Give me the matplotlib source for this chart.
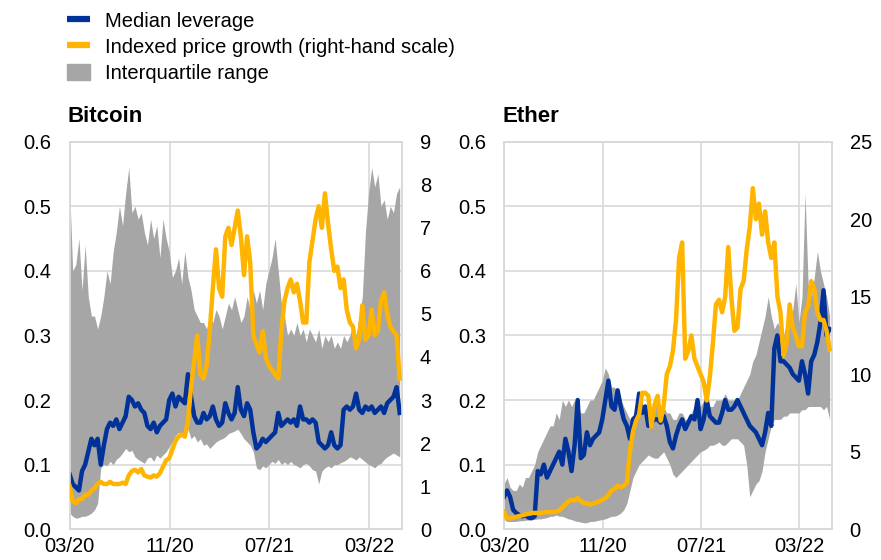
import matplotlib
matplotlib.use("Agg")
import matplotlib.pyplot as plt
import matplotlib.dates as mdates
from matplotlib.lines import Line2D
from matplotlib.patches import Patch
import pandas as pd

plt.rcParams['font.family'] = ['Liberation Sans', 'DejaVu Sans']

# readings every quarter of a month, 03/20 .. mid 05/22
dates = pd.date_range('2020-03-01', '2022-05-15', periods=107)

# Bitcoin
btc_median = [0.085, 0.07, 0.065, 0.06, 0.09, 0.1, 0.12, 0.14, 0.13, 0.14,
              0.1, 0.13, 0.155, 0.165, 0.16, 0.17, 0.155, 0.165, 0.175, 0.205,
              0.2, 0.19, 0.195, 0.185, 0.18, 0.16, 0.155, 0.165, 0.15, 0.16,
              0.165, 0.17, 0.2, 0.21, 0.19, 0.205, 0.2, 0.195, 0.24, 0.205,
              0.175, 0.165, 0.165, 0.18, 0.17, 0.175, 0.19, 0.17, 0.16, 0.165,
              0.195, 0.18, 0.17, 0.18, 0.22, 0.185, 0.175, 0.195, 0.185, 0.15,
              0.125, 0.13, 0.14, 0.135, 0.14, 0.145, 0.15, 0.18, 0.16, 0.165,
              0.17, 0.165, 0.17, 0.16, 0.19, 0.17, 0.17, 0.165, 0.17, 0.165,
              0.135, 0.13, 0.125, 0.13, 0.15, 0.13, 0.125, 0.13, 0.185, 0.19,
              0.185, 0.19, 0.21, 0.185, 0.18, 0.19, 0.185, 0.19, 0.18, 0.185,
              0.19, 0.18, 0.195, 0.2, 0.205, 0.22, 0.18]
btc_price = [1.0, 0.65, 0.6, 0.7, 0.7, 0.8, 0.8, 0.9, 0.95, 1.05,
             1.1, 1.05, 1.05, 1.1, 1.05, 1.05, 1.05, 1.08, 1.05, 1.25,
             1.35, 1.38, 1.32, 1.4, 1.25, 1.22, 1.2, 1.25, 1.22, 1.3,
             1.45, 1.6, 1.65, 1.85, 2.05, 2.15, 2.2, 2.15, 2.5, 3.3,
             3.9, 4.5, 3.6, 3.5, 3.8, 4.6, 5.6, 6.5, 5.6, 5.4,
             6.8, 7.0, 6.6, 7.0, 7.4, 6.8, 5.9, 6.8, 6.2, 4.5,
             4.3, 4.1, 4.6, 4.0, 3.8, 3.7, 3.6, 3.5, 4.6, 5.3,
             5.6, 5.8, 5.5, 5.7, 5.3, 4.8, 4.8, 6.2, 6.7, 7.2,
             7.5, 7.0, 7.8, 7.1, 6.5, 6.0, 6.1, 5.6, 5.8, 5.1,
             4.8, 4.7, 4.2, 4.4, 5.2, 4.4, 4.5, 5.1, 4.5, 4.6,
             5.3, 5.5, 5.0, 4.7, 4.6, 4.5, 3.5]
btc_q75 = [0.53, 0.4, 0.41, 0.45, 0.37, 0.44, 0.36, 0.33, 0.33, 0.31,
           0.33, 0.36, 0.4, 0.38, 0.43, 0.46, 0.5, 0.47, 0.52, 0.56,
           0.49, 0.5, 0.48, 0.49, 0.46, 0.44, 0.48, 0.45, 0.47, 0.42,
           0.48, 0.45, 0.43, 0.39, 0.4, 0.42, 0.38, 0.43, 0.39, 0.37,
           0.34, 0.33, 0.32, 0.32, 0.31, 0.33, 0.32, 0.34, 0.33, 0.31,
           0.33, 0.35, 0.34, 0.36, 0.34, 0.32, 0.33, 0.36, 0.34, 0.37,
           0.35, 0.37, 0.34, 0.38, 0.4, 0.42, 0.45, 0.4, 0.35, 0.33,
           0.3, 0.31, 0.3, 0.32, 0.3, 0.31, 0.29, 0.31, 0.3, 0.29,
           0.31, 0.28, 0.3, 0.29, 0.3, 0.28, 0.29, 0.28, 0.3, 0.29,
           0.3, 0.32, 0.3, 0.33, 0.36, 0.46, 0.52, 0.56, 0.53, 0.55,
           0.5, 0.51, 0.48, 0.5, 0.49, 0.52, 0.53]
btc_q25 = [0.025, 0.02, 0.017, 0.018, 0.02, 0.02, 0.022, 0.025, 0.03, 0.04,
           0.095, 0.1, 0.098, 0.105, 0.1, 0.108, 0.112, 0.118, 0.125, 0.12,
           0.122, 0.112, 0.108, 0.105, 0.102, 0.11, 0.112, 0.105, 0.115, 0.11,
           0.115, 0.12, 0.128, 0.135, 0.145, 0.15, 0.148, 0.15, 0.155, 0.14,
           0.145, 0.135, 0.14, 0.13, 0.132, 0.125, 0.13, 0.135, 0.138, 0.14,
           0.143, 0.148, 0.15, 0.152, 0.155, 0.148, 0.14, 0.135, 0.13, 0.12,
           0.095, 0.092, 0.098, 0.095, 0.1, 0.105, 0.102, 0.108, 0.1, 0.104,
           0.1, 0.105, 0.1, 0.098, 0.095, 0.1, 0.102, 0.098, 0.092, 0.09,
           0.07, 0.09, 0.095, 0.098, 0.095, 0.1, 0.1, 0.103, 0.105, 0.108,
           0.112, 0.11, 0.107, 0.112, 0.108, 0.104, 0.1, 0.098, 0.095, 0.1,
           0.102, 0.108, 0.112, 0.115, 0.118, 0.115, 0.112]

# Ether
eth_median = [0.05, 0.06, 0.05, 0.03, 0.025, 0.022, 0.02, 0.022, 0.018, 0.017,
              0.02, 0.09, 0.085, 0.1, 0.08, 0.09, 0.1, 0.11, 0.12, 0.1,
              0.14, 0.12, 0.09, 0.13, 0.2, 0.11, 0.115, 0.15, 0.13, 0.14,
              0.145, 0.15, 0.17, 0.2, 0.23, 0.19, 0.185, 0.215, 0.19, 0.17,
              0.16, 0.14, 0.17, 0.175, 0.21, 0.18, 0.19, 0.16, 0.165, 0.17,
              0.17, 0.165, 0.175, 0.16, 0.135, 0.125, 0.145, 0.16, 0.17, 0.155,
              0.165, 0.175, 0.17, 0.2, 0.155, 0.17, 0.2, 0.175, 0.17, 0.165,
              0.165, 0.18, 0.2, 0.185, 0.185, 0.19, 0.2, 0.19, 0.18, 0.17,
              0.16, 0.155, 0.15, 0.14, 0.13, 0.15, 0.18, 0.16, 0.28, 0.3,
              0.26, 0.26, 0.255, 0.25, 0.24, 0.235, 0.23, 0.26, 0.24, 0.21,
              0.26, 0.27, 0.29, 0.32, 0.37, 0.3, 0.31]
eth_price = [1.1, 0.7, 0.7, 0.75, 0.8, 0.85, 0.9, 0.95, 1.0, 1.05,
             1.05, 1.05, 1.05, 1.08, 1.1, 1.1, 1.1, 1.15, 1.2, 1.4,
             1.6, 1.8, 1.9, 1.85, 2.0, 1.8, 1.7, 1.65, 1.6, 1.65,
             1.7, 1.8, 1.9, 2.0, 2.2, 2.5, 2.6, 2.8, 2.7, 2.8,
             3.0, 5.0, 6.3, 7.0, 7.4, 8.8, 8.8, 8.6, 6.6, 8.0,
             8.6, 7.0, 8.0, 10.0, 10.5, 11.5, 13.5, 17.5, 18.5, 11.0,
             11.5, 12.5, 11.0, 10.5, 10.0, 9.5, 8.3, 9.8, 12.0, 14.5,
             14.8, 14.0, 15.0, 18.2, 15.0, 12.8, 13.0, 15.5, 16.0, 18.0,
             19.5, 22.0, 20.0, 21.0, 19.0, 20.5, 18.5, 17.5, 18.5, 15.0,
             14.0, 11.2, 12.0, 14.5, 13.0, 12.5, 11.8, 11.8, 14.0, 14.4,
             16.0, 15.5, 14.0, 13.5, 13.5, 12.8, 11.6]
eth_q75 = [0.07, 0.08, 0.065, 0.06, 0.06, 0.07, 0.065, 0.08, 0.08, 0.09,
           0.1, 0.12, 0.13, 0.14, 0.15, 0.16, 0.16, 0.18, 0.17, 0.2,
           0.19, 0.2, 0.19, 0.2, 0.19, 0.18, 0.18, 0.19, 0.2, 0.2,
           0.21, 0.22, 0.23, 0.25, 0.24, 0.22, 0.22, 0.21, 0.2, 0.19,
           0.18, 0.17, 0.17, 0.19, 0.2, 0.19, 0.19, 0.18, 0.19, 0.2,
           0.2, 0.19, 0.19, 0.18, 0.18, 0.17, 0.17, 0.18, 0.18, 0.17,
           0.17, 0.18, 0.19, 0.2, 0.19, 0.2, 0.2, 0.19, 0.19, 0.2,
           0.2, 0.2, 0.21, 0.2, 0.2, 0.2, 0.2, 0.21, 0.22, 0.23,
           0.24, 0.26, 0.27, 0.29, 0.31, 0.33, 0.36, 0.33, 0.31, 0.32,
           0.31, 0.3, 0.32, 0.33, 0.34, 0.38, 0.32, 0.36, 0.52, 0.38,
           0.36, 0.39, 0.43, 0.4, 0.38, 0.36, 0.33]
eth_q25 = [0.015, 0.012, 0.012, 0.012, 0.012, 0.013, 0.013, 0.014, 0.014, 0.015,
           0.015, 0.016, 0.016, 0.017, 0.018, 0.02, 0.02, 0.022, 0.02, 0.02,
           0.018, 0.016, 0.015, 0.013, 0.012, 0.011, 0.01, 0.01, 0.012, 0.012,
           0.013, 0.014, 0.015, 0.016, 0.018, 0.02, 0.02, 0.022, 0.025, 0.03,
           0.04, 0.06, 0.08, 0.09, 0.1, 0.105, 0.11, 0.115, 0.112, 0.11,
           0.11, 0.115, 0.12, 0.11, 0.1, 0.085, 0.08, 0.085, 0.09, 0.095,
           0.1, 0.105, 0.11, 0.115, 0.12, 0.122, 0.125, 0.13, 0.13, 0.132,
           0.135, 0.13, 0.13, 0.135, 0.14, 0.14, 0.14, 0.135, 0.13, 0.1,
           0.05, 0.06, 0.07, 0.075, 0.09, 0.12, 0.14, 0.16, 0.17, 0.17,
           0.17, 0.175, 0.175, 0.18, 0.18, 0.18, 0.18, 0.185, 0.185, 0.19,
           0.19, 0.19, 0.19, 0.19, 0.185, 0.19, 0.17]

tick_dates = pd.to_datetime(['2020-03-01', '2020-11-01', '2021-07-01', '2022-03-01'])

BLUE = '#003299'
ORANGE = '#FFB400'
GREY = '#A6A6A6'
FRAME = '#D9D9D9'
FS = 14.5

fig = plt.figure(figsize=(8.81, 5.60), dpi=100)


def panel(rect, title, med, price, q25, q75, rmax, rstep):
    ax = fig.add_axes(rect)
    ax.fill_between(dates, q25, q75, color=GREY, lw=0, zorder=1)
    ax.plot(dates, med, color=BLUE, lw=3.2, zorder=3)
    ax.set_ylim(0, 0.6)
    ax.set_yticks([0, 0.1, 0.2, 0.3, 0.4, 0.5, 0.6])
    ax.yaxis.set_major_formatter(plt.FuncFormatter(lambda v, p: '%.1f' % v))
    ax.set_xlim(pd.Timestamp('2020-03-01'), pd.Timestamp('2022-05-20'))
    ax.set_xticks(tick_dates)
    ax.xaxis.set_major_formatter(mdates.DateFormatter('%m/%y'))
    ax.grid(True, color=FRAME, lw=1.2, zorder=0)
    ax.set_axisbelow(True)
    ax.tick_params(axis='y', length=0, pad=13, labelsize=FS)
    # labels sit right at the bottom edge, keep the pad small
    ax.tick_params(axis='x', length=0, pad=5.5, labelsize=FS)
    for s in ax.spines.values():
        s.set_color(FRAME)
        s.set_linewidth(1.2)
    ax.set_title(title, loc='left', fontsize=16, fontweight='bold', pad=14, x=-0.005)

    # price on the right-hand scale
    ax2 = ax.twinx()
    ax2.plot(dates, price, color=ORANGE, lw=3.2, zorder=4)
    ax2.set_ylim(0, rmax)
    ax2.set_yticks(range(0, rmax + 1, rstep))
    ax2.tick_params(axis='y', length=0, pad=13, labelsize=FS)
    for s in ax2.spines.values():
        s.set_color(FRAME)
        s.set_linewidth(1.2)
    return ax, ax2


panel([0.079, 0.055, 0.377, 0.692], 'Bitcoin', btc_median, btc_price, btc_q25, btc_q75, 9, 1)
panel([0.572, 0.055, 0.372, 0.692], 'Ether', eth_median, eth_price, eth_q25, eth_q75, 25, 5)

handles = [Line2D([], [], color=BLUE, lw=4.5, solid_capstyle='butt'),
           Line2D([], [], color=ORANGE, lw=4.5, solid_capstyle='butt'),
           Patch(color=GREY)]
labels = ['Median leverage', 'Indexed price growth (right-hand scale)', 'Interquartile range']
fig.legend(handles, labels, loc='upper left', bbox_to_anchor=(0.076, 0.979),
           frameon=False, fontsize=FS, handlelength=1.15, handleheight=0.9,
           handletextpad=0.75, labelspacing=0.33, borderpad=0, borderaxespad=0)

fig.savefig('out.png', dpi=100)
